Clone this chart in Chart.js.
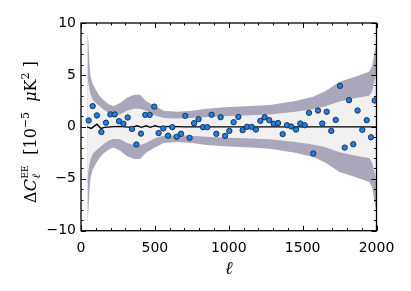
<!DOCTYPE html>
<html>
<head>
<meta charset="utf-8">
<script src="https://cdn.jsdelivr.net/npm/chart.js@4.4.1/dist/chart.umd.min.js"></script>
<style>
html,body{margin:0;padding:0;background:#fff;}
#wrap{width:411px;height:291px;position:relative;}
</style>
</head>
<body>
<div id="wrap"><canvas id="c" width="411" height="291"></canvas></div>
<script>
// ---- data ----
const ell = [52,79,108,138,169,199,228,257,287,316,345,375,406,435,465,496,525,557,589,618,648,677,706,735,765,796,826,855,884,916,945,975,1004,1033,1065,1094,1124,1155,1184,1214,1243,1274,1304,1334,1365,1394,1423,1455,1484,1514,1543,1572,1604,1633,1663,1694,1724,1753,1785,1814,1843,1872,1904,1934,1963,1988];
const deltaCl = [0.61,2.0,1.1,-0.5,0.4,1.2,1.2,0.55,0.3,0.9,-0.2,-1.7,-0.65,1.15,1.15,1.95,-0.6,-0.15,-0.85,-0.03,-0.95,-0.67,1.06,-1.06,0.35,0.74,-0.03,-0.03,1.16,-0.67,0.93,-0.87,-0.39,0.45,0.96,-0.32,0.0,0.0,-0.26,0.58,0.93,0.65,0.3,0.37,-0.7,0.16,0.03,-0.26,0.32,0.16,1.35,-2.57,1.57,0.32,1.45,-0.39,0.67,3.95,-2.0,2.57,-1.67,1.57,-0.29,0.64,-1.0,2.54];

const lineEll = [40,70,108,135,160,200,250,300,345,380,410,440,470,500,530,600,700,2000];
const lineVal = [0.0,-0.15,0.26,-0.15,-0.05,0.0,0.05,0.0,-0.05,0.1,-0.05,0.1,-0.05,0.1,0.0,0.05,0.0,0.0];

const bandEll   = [43,50,57,65,80,100,125,150,185,220,265,310,360,400,440,500,560,650,750,850,1000,1150,1280,1450,1570,1650,1750,1850,1950,1970,1990,2000];
const outerHalf = [9.4,8.1,6.2,4.85,4.1,3.57,3.0,2.6,2.2,2.0,2.3,2.8,3.1,3.1,2.5,2.0,1.55,1.45,1.55,1.75,1.9,2.0,2.1,2.5,2.9,3.4,4.35,4.8,5.3,5.8,7.5,8.2];
const innerHalf = [4.8,4.2,3.6,3.1,2.6,2.3,2.0,1.7,1.35,1.15,1.2,1.55,1.75,1.75,1.55,1.1,0.85,0.8,0.85,0.95,1.05,1.12,1.2,1.45,1.7,1.95,2.45,2.75,3.0,3.4,4.6,5.3];

const xTicks = [0,500,1000,1500,2000];
const yTicks = [-10,-5,0,5,10];

// ---- build ----
const pts = (xs, ys, s) => xs.map((x,i)=>({x:x, y:(s===undefined?1:s)*ys[i]}));
const PURPLE = '#aba7ba';
const LIGHT = '#f1f1f1';

const frame = {
  id:'frame',
  afterDatasetsDraw(chart){
    const {ctx, chartArea:a, scales:{x,y}} = chart;
    ctx.save();
    ctx.strokeStyle='#000';
    ctx.lineWidth=1;
    const seg=(x1,y1,x2,y2)=>{ctx.beginPath();ctx.moveTo(x1,y1);ctx.lineTo(x2,y2);ctx.stroke();};
    for(let v=0; v<=2000; v+=100){
      const px=Math.round(x.getPixelForValue(v))+0.5;
      const L = xTicks.includes(v)?5:2.5;
      seg(px,a.bottom,px,a.bottom-L);
      seg(px,a.top,px,a.top+L);
    }
    for(let v=-10; v<=10; v+=1){
      const py=Math.round(y.getPixelForValue(v))+0.5;
      const L = yTicks.includes(v)?5:2.5;
      seg(a.left,py,a.left+L,py);
      seg(a.right,py,a.right-L,py);
    }
    ctx.lineWidth=1.3;
    ctx.strokeRect(a.left,a.top,a.right-a.left,a.bottom-a.top);
    ctx.restore();

    // x label
    ctx.save();
    ctx.fillStyle='#000';
    ctx.font='italic 18px "DejaVu Serif"';
    ctx.textAlign='center';
    ctx.textBaseline='alphabetic';
    ctx.fillText('ℓ', (a.left+a.right)/2, 274);
    ctx.restore();

    // y label
    ctx.save();
    ctx.fillStyle='#000';
    ctx.translate(36,132);
    ctx.rotate(-Math.PI/2);
    ctx.textBaseline='alphabetic';
    ctx.textAlign='left';
    const F = 16;
    const runs = [
      {t:'Δ', f:F+'px "DejaVu Serif"'},
      {t:'C', f:'italic '+F+'px "DejaVu Serif"'},
      {stack:[{t:'ℓ', f:'italic 11px "DejaVu Serif"', dy:4},{t:'EE', f:'9px "DejaVu Serif"', dy:-8}]},
      {t:'  [10', f:F+'px "DejaVu Serif"'},
      {t:'−5', f:'11px "DejaVu Serif"', dy:-7},
      {t:'  ', f:F+'px "DejaVu Serif"'},
      {t:'μ', f:'italic '+F+'px "DejaVu Serif"'},
      {t:'K', f:F+'px "DejaVu Serif"'},
      {t:'2', f:'11px "DejaVu Serif"', dy:-7},
      {t:' ]', f:F+'px "DejaVu Serif"'}
    ];
    const w = r => { if(r.stack){ return Math.max(...r.stack.map(s=>{ctx.font=s.f;return ctx.measureText(s.t).width;}))+1; } ctx.font=r.f; return ctx.measureText(r.t).width; };
    let total = runs.reduce((s,r)=>s+w(r),0);
    let cx = -total/2;
    runs.forEach(r=>{
      const rw=w(r);
      if(r.stack){ r.stack.forEach(s=>{ctx.font=s.f; ctx.fillText(s.t,cx+0.5,s.dy||0);}); }
      else { ctx.font=r.f; ctx.fillText(r.t,cx,r.dy||0); }
      cx+=rw;
    });
    ctx.restore();
  }
};

new Chart(document.getElementById('c'), {
  type:'scatter',
  data:{
    datasets:[
      {type:'line', data:pts(bandEll,outerHalf,1), fill:'+1', backgroundColor:PURPLE, borderWidth:0, pointRadius:0, tension:0, order:4},
      {type:'line', data:pts(bandEll,outerHalf,-1), fill:false, borderWidth:0, pointRadius:0, tension:0, order:4},
      {type:'line', data:pts(bandEll,innerHalf,1), fill:'+1', backgroundColor:LIGHT, borderWidth:0, pointRadius:0, tension:0, order:3},
      {type:'line', data:pts(bandEll,innerHalf,-1), fill:false, borderWidth:0, pointRadius:0, tension:0, order:3},
      {type:'line', data:pts(lineEll,lineVal), fill:false, borderColor:'#000', borderWidth:1.4, pointRadius:0, tension:0, order:2},
      {type:'scatter', data:pts(ell,deltaCl), backgroundColor:'#1f7ee0', borderColor:'#142a4a', borderWidth:0.9, pointRadius:2.7, order:1}
    ]
  },
  options:{
    responsive:false,
    animation:false,
    events:[],
    layout:{padding:{left:0,right:34.5,top:23,bottom:0}},
    plugins:{legend:{display:false}, tooltip:{enabled:false}},
    scales:{
      x:{type:'linear', min:0, max:2000,
         afterBuildTicks:(s)=>{s.ticks=xTicks.map(v=>({value:v}));},
         afterFit:(s)=>{s.height=60.3;},
         grid:{display:false, drawTicks:false},
         border:{display:false},
         ticks:{padding:9, color:'#000', font:{family:'DejaVu Sans', size:14}, maxRotation:0, autoSkip:false, callback:(v)=>String(v)}
      },
      y:{type:'linear', min:-10, max:10,
         afterBuildTicks:(s)=>{s.ticks=yTicks.map(v=>({value:v}));},
         afterFit:(s)=>{s.width=81;},
         grid:{display:false, drawTicks:false},
         border:{display:false},
         ticks:{padding:5, color:'#000', font:{family:'DejaVu Sans', size:14}, callback:(v)=>String(v).replace('-','−')}
      }
    }
  },
  plugins:[frame]
});
</script>
</body>
</html>
